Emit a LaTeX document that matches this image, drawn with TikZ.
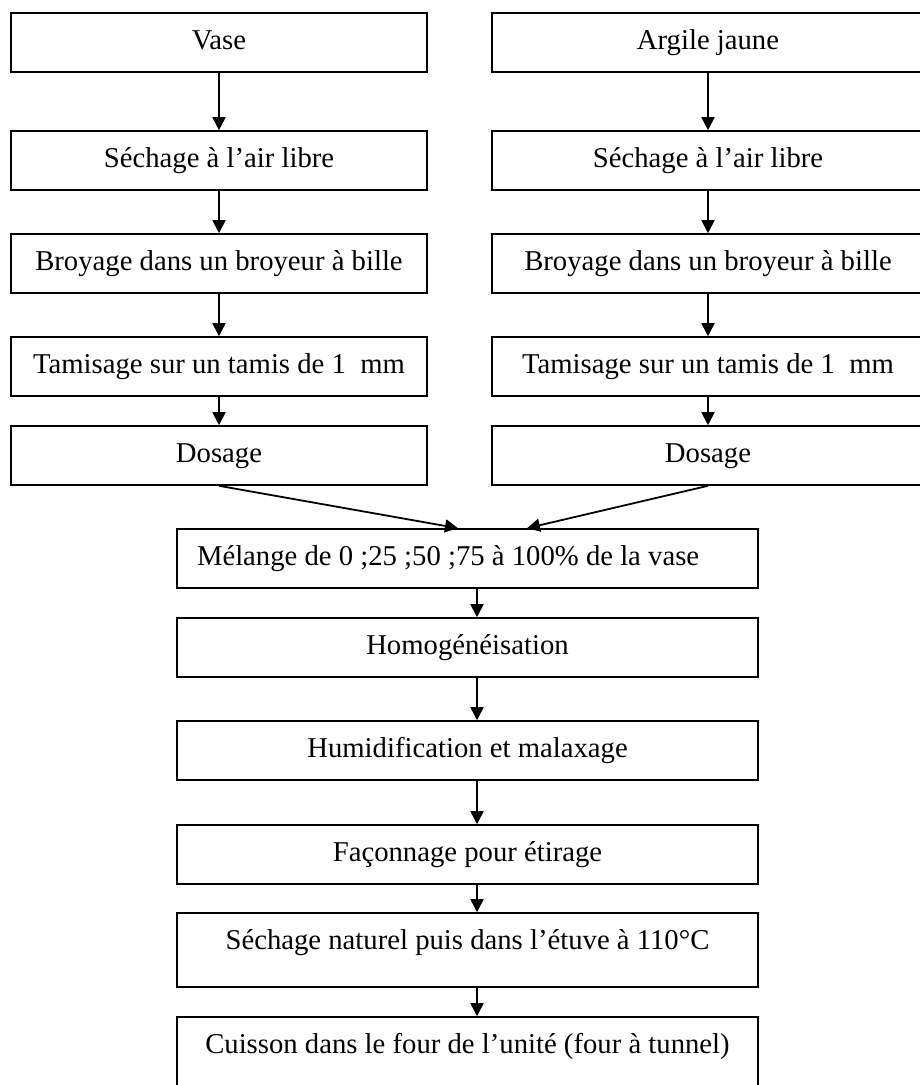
\documentclass[tikz,border=0pt]{standalone}
\usepackage{fontspec}
\setmainfont{Liberation Serif}
\usetikzlibrary{arrows.meta}

\begin{document}
\begin{tikzpicture}[x=1pt, y=-1pt,
		box/.style={draw, line width=1.6pt, minimum height=59pt, inner sep=0pt, text height=20pt, text depth=6pt, font=\fontsize{28.7pt}{34pt}\selectfont},
		tallbox/.style={box, minimum height=74pt, text depth=21pt},
		leftcol/.style={box, minimum width=416pt},
		rightcol/.style={box, minimum width=432pt},
		midcol/.style={box, minimum width=581pt},
		arr/.style={line width=1.8pt, -{Triangle[width=13pt,length=13pt]}}]
		
		\useasboundingbox (0,0) rectangle (919,1085);
		
		\node[leftcol] (vase) at (219,42.5) {Vase};
		\node[leftcol] (sechL) at (219,160.5) {Séchage à l’air libre};
		\node[leftcol] (broyL) at (219,263.5) {Broyage dans un broyeur à bille};
		\node[leftcol] (tamL) at (219,366.5) {Tamisage sur un tamis de 1\ \ mm};
		\node[leftcol] (dosL) at (219,455.5) {Dosage};
		
		\node[rightcol] (argile) at (708,42.5) {Argile jaune};
		\node[rightcol] (sechR) at (708,160.5) {Séchage à l’air libre};
		\node[rightcol] (broyR) at (708,263.5) {Broyage dans un broyeur à bille};
		\node[rightcol] (tamR) at (708,366.5) {Tamisage sur un tamis de 1\ \ mm};
		\node[rightcol] (dosR) at (708,455.5) {Dosage};
		
		\node[midcol] (mel) at (467.5,558.5) {\makebox[541pt][l]{Mélange de 0 ;25 ;50 ;75 à 100\% de la vase}};
		\node[midcol] (homo) at (467.5,647.5) {Homogénéisation};
		\node[midcol] (humid) at (467.5,750.5) {Humidification et malaxage};
		\node[midcol] (facon) at (467.5,854.5) {Façonnage pour étirage};
		\node[midcol, tallbox] (sechN) at (467.5,950) {Séchage naturel puis dans l’étuve à 110°C};
		\node[midcol, tallbox] (cuis) at (467.5,1054) {Cuisson dans le four de l’unité (four à tunnel)};
		
		\draw[arr] (vase) -- (sechL);
		\draw[arr] (sechL) -- (broyL);
		\draw[arr] (broyL) -- (tamL);
		\draw[arr] (tamL) -- (dosL);
		
		\draw[arr] (argile) -- (sechR);
		\draw[arr] (sechR) -- (broyR);
		\draw[arr] (broyR) -- (tamR);
		\draw[arr] (tamR) -- (dosR);
		
		\draw[arr] (dosL.south) -- ([xshift=-9.5pt]mel.north);
		\draw[arr] (dosR.south) -- ([xshift=59.5pt]mel.north);
		
		\draw[arr] ([xshift=9.5pt]mel.south) -- ([xshift=9.5pt]homo.north);
		\draw[arr] ([xshift=9.5pt]homo.south) -- ([xshift=9.5pt]humid.north);
		\draw[arr] ([xshift=9.5pt]humid.south) -- ([xshift=9.5pt]facon.north);
		\draw[arr] ([xshift=9.5pt]facon.south) -- ([xshift=9.5pt]sechN.north);
		\draw[arr] ([xshift=9.5pt]sechN.south) -- ([xshift=9.5pt]cuis.north);
		
	\end{tikzpicture}
\end{document}
